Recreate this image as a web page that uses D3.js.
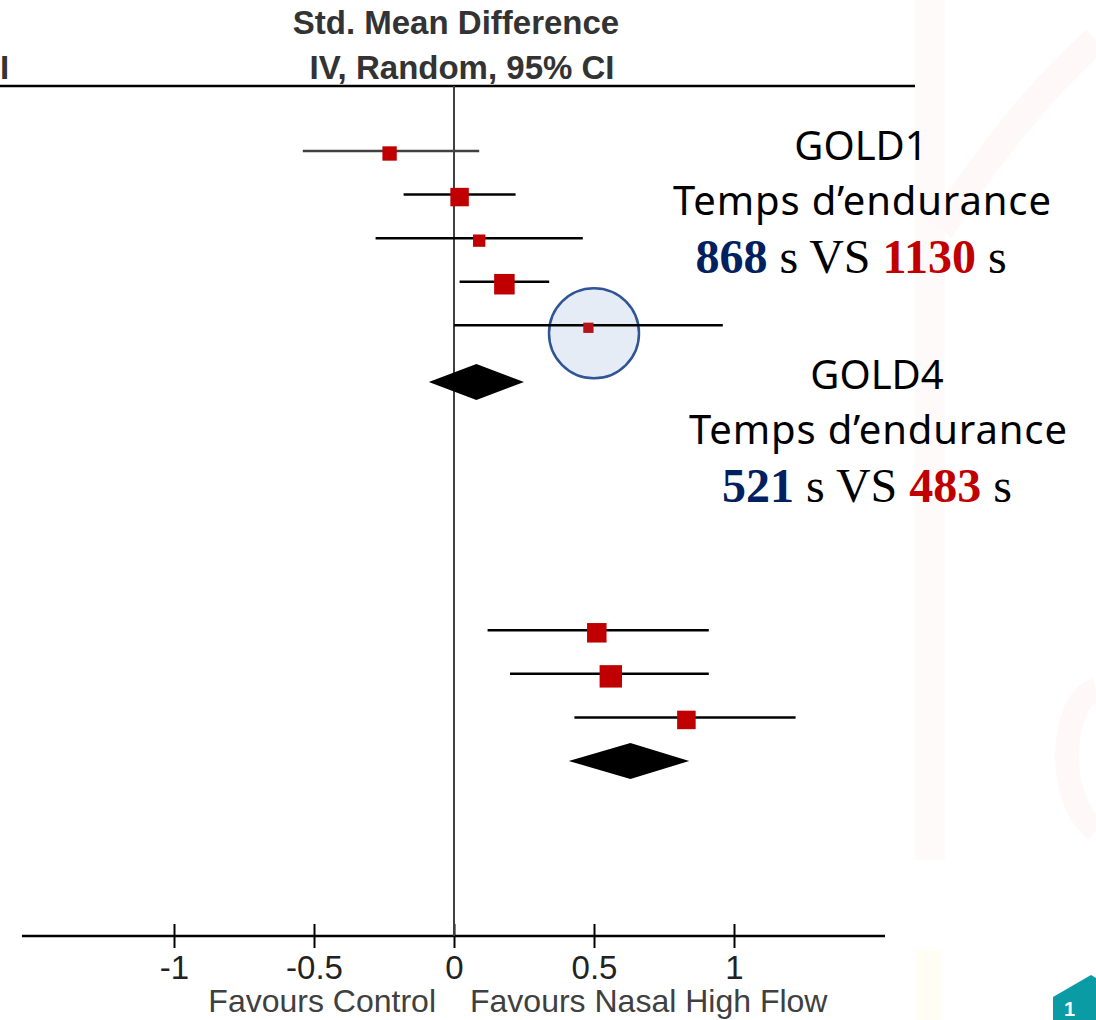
<!DOCTYPE html>
<html lang="fr">
<head>
<meta charset="UTF-8">
<title>Forest plot - Nasal High Flow</title>
<script src="https://cdn.jsdelivr.net/npm/d3@7"></script>
<style>
  body { margin: 0; background: #fff; }
  svg { display: block; }
  .sans { font-family: "Liberation Sans", Arial, sans-serif; }
</style>
</head>
<body>
<div id="chart"></div>
<script>
    // GOLD1 studies: std. mean difference with 95% CI, weight (%)
    const g1Est = [-0.23, 0.02, 0.09, 0.18, 0.48];
    const g1Lo = [-0.54, -0.18, -0.28, 0.02, 0.00];
    const g1Hi = [0.09, 0.22, 0.46, 0.34, 0.96];
    const g1Weight = [16.8, 27.8, 12.4, 34.4, 8.6];
    const g1Total = [-0.09, 0.08, 0.25];

    // GOLD4 studies
    const g2Est = [0.51, 0.56, 0.83];
    const g2Lo = [0.12, 0.20, 0.43];
    const g2Hi = [0.91, 0.91, 1.22];
    const g2Weight = [31.0, 41.0, 28.0];
    const g2Total = [0.41, 0.63, 0.84];

    const ticks = [-1, -0.5, 0, 0.5, 1];

    const W = 1096, H = 1020;
    const svg = d3.select("#chart").append("svg")
        .attr("width", W).attr("height", H);

    // very faint slide background on the right
    const bg = svg.append("g").attr("fill", "none");
    bg.append("rect").attr("x", 915).attr("y", 0).attr("width", 30).attr("height", 860).attr("fill", "#fffafa");
    bg.append("path").attr("stroke", "#fff8f8").attr("stroke-width", 28)
        .attr("d", "M940,230 C990,150 1050,80 1096,40");
    bg.append("path").attr("stroke", "#fff8f8").attr("stroke-width", 24)
        .attr("d", "M1096,690 C1060,700 1055,800 1096,830");
    bg.append("rect").attr("x", 915).attr("y", 950).attr("width", 26).attr("height", 70).attr("fill", "#fffdf4");

    const x = d3.scaleLinear().domain([0, 1]).range([454, 734]);
    const y = d3.scaleLinear().domain([0, 14]).range([151, 761]);
    const size = d3.scaleSqrt().domain([0, 100]).range([0, 35]);

    // header
    const header = svg.append("g").attr("class", "sans")
        .attr("font-weight", "bold").attr("fill", "#333").attr("font-size", 33);
    header.append("text").attr("x", 456).attr("y", 34).attr("text-anchor", "middle")
        .text("Std. Mean Difference");
    header.append("text").attr("x", 462).attr("y", 79).attr("text-anchor", "middle")
        .text("IV, Random, 95% CI");
    header.append("text").attr("x", 0).attr("y", 79).text("I");

    svg.append("line").attr("x1", 0).attr("x2", 915).attr("y1", 86).attr("y2", 86)
        .attr("stroke", "#000").attr("stroke-width", 2.5);

    // axis
    const axisY = 936;
    const axis = svg.append("g").attr("transform", `translate(0,${axisY})`)
        .call(d3.axisBottom(x).tickValues(ticks).tickSize(12).tickFormat(d => String(d)));
    axis.select(".domain").remove();
    axis.selectAll(".tick line").attr("y1", -12).attr("y2", 12)
        .attr("stroke", "#000").attr("stroke-width", 2);
    axis.selectAll(".tick text").attr("class", "sans").attr("font-size", 33)
        .attr("fill", "#222").attr("dy", 0).attr("y", 43);
    svg.append("line").attr("x1", 22).attr("x2", 885).attr("y1", axisY).attr("y2", axisY)
        .attr("stroke", "#000").attr("stroke-width", 2.5);

    const fav = svg.append("g").attr("class", "sans").attr("font-size", 32).attr("fill", "#404040");
    fav.append("text").attr("x", 436).attr("y", 1012).attr("text-anchor", "end").text("Favours Control");
    fav.append("text").attr("x", 470).attr("y", 1012).text("Favours Nasal High Flow");

    // line of no effect
    svg.append("line").attr("x1", x(0)).attr("x2", x(0)).attr("y1", 86).attr("y2", axisY)
        .attr("stroke", "#404040").attr("stroke-width", 2);

    // highlight circle around last GOLD1 study
    svg.append("circle").attr("cx", x(0.5)).attr("cy", y(4) + 8).attr("r", 45)
        .attr("fill", "#e5ecf6").attr("stroke", "#2f5597").attr("stroke-width", 2.5);

    function drawGroup(est, lo, hi, wt, total, startRow, totalRow) {
        const g = svg.append("g");
        const rows = est.map((d, i) => ({ est: d, lo: lo[i], hi: hi[i], w: wt[i], row: startRow + i }));
        g.selectAll("line.ci").data(rows).enter().append("line")
            .attr("class", "ci")
            .attr("x1", d => x(d.lo)).attr("x2", d => x(d.hi))
            .attr("y1", d => y(d.row)).attr("y2", d => y(d.row))
            .attr("stroke", (d, i) => (startRow === 0 && i === 0) ? "#404040" : "#000")
            .attr("stroke-width", 2.5);
        g.selectAll("rect").data(rows).enter().append("rect")
            .attr("x", d => x(d.est) - size(d.w) / 2)
            .attr("y", d => y(d.row) + 2.5 - size(d.w) / 2)
            .attr("width", d => size(d.w)).attr("height", d => size(d.w))
            .attr("fill", d => d.w < 10 ? "#b5121b" : "#c00000");
        const cy = y(totalRow);
        g.append("path")
            .attr("d", `M${x(total[0])},${cy}L${x(total[1])},${cy - 18}L${x(total[2])},${cy}L${x(total[1])},${cy + 18}Z`)
            .attr("fill", "#000");
    }
    drawGroup(g1Est, g1Lo, g1Hi, g1Weight, g1Total, 0, 5.3);
    drawGroup(g2Est, g2Lo, g2Hi, g2Weight, g2Total, 11, 14);

    // annotations
    const note = svg.append("g").attr("text-anchor", "middle");
    function annot(cx, yTop, gold, ctrl, nhf) {
        note.append("text").attr("x", cx).attr("y", yTop)
            .attr("font-family", "'Noto Sans', 'Open Sans', sans-serif").attr("font-size", 40)
            .attr("fill", "#000").text(gold);
        note.append("text").attr("x", cx + 1).attr("y", yTop + 55)
            .attr("font-family", "'Noto Sans', 'Open Sans', sans-serif").attr("font-size", 40)
            .attr("fill", "#000").attr("textLength", 378).text("Temps d\u2019endurance");
        const t = note.append("text").attr("x", cx - 10).attr("y", yTop + 113)
            .attr("font-family", "'Liberation Serif', 'Times New Roman', serif").attr("font-size", 48);
        t.append("tspan").attr("font-weight", "bold").attr("fill", "#002060").text(ctrl);
        t.append("tspan").attr("fill", "#000").text(" s VS ");
        t.append("tspan").attr("font-weight", "bold").attr("fill", "#c00000").text(nhf);
        t.append("tspan").attr("fill", "#000").text(" s");
    }
    annot(861, 160, "GOLD1", "868", "1130");
    annot(877, 389, "GOLD4", "521", "483");

    // corner logo
    svg.append("path").attr("d", "M1053,997 L1091,975 L1096,978 L1096,1020 L1053,1020 Z").attr("fill", "#0a9ba5");
    svg.append("text").attr("x", 1064).attr("y", 1016).attr("class", "sans")
        .attr("font-weight", "bold").attr("font-size", 20).attr("fill", "#fff").text("1");
</script>
</body>
</html>
